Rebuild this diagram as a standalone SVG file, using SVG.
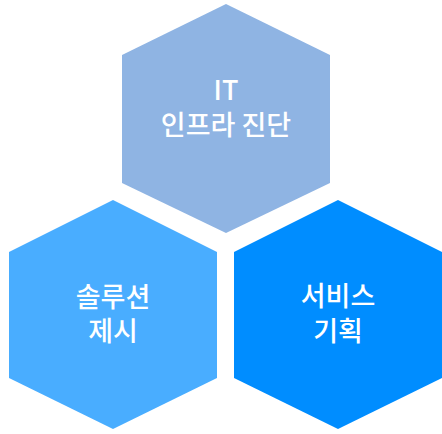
<svg xmlns="http://www.w3.org/2000/svg" width="442" height="434" viewBox="0 0 442 434">
<style>
.lbl{font-family:"Noto Sans CJK KR","Noto Sans",sans-serif;font-size:27px;font-weight:500;fill:#ffffff;text-anchor:middle}
</style>
<rect width="442" height="434" fill="#ffffff"/>
<g id="node-infra">
<polygon points="226,4 330,55 330,183 226,233 122,183 122,55" fill="#8fb4e3"/>
<text class="lbl" x="226" y="100">IT</text>
<text class="lbl" x="226" y="135">인프라 진단</text>
</g>
<g id="node-solution">
<polygon points="113,200 217,252 217,378 113,429 9,378 9,252" fill="#49adff"/>
<text class="lbl" x="113" y="307">솔루션</text>
<text class="lbl" x="113" y="341">제시</text>
</g>
<g id="node-service">
<polygon points="338,200 442,252 442,378 338,429 234,378 234,252" fill="#008dff"/>
<text class="lbl" x="338" y="306">서비스</text>
<text class="lbl" x="338" y="341">기획</text>
</g>
<g id="connectors"></g>
</svg>
